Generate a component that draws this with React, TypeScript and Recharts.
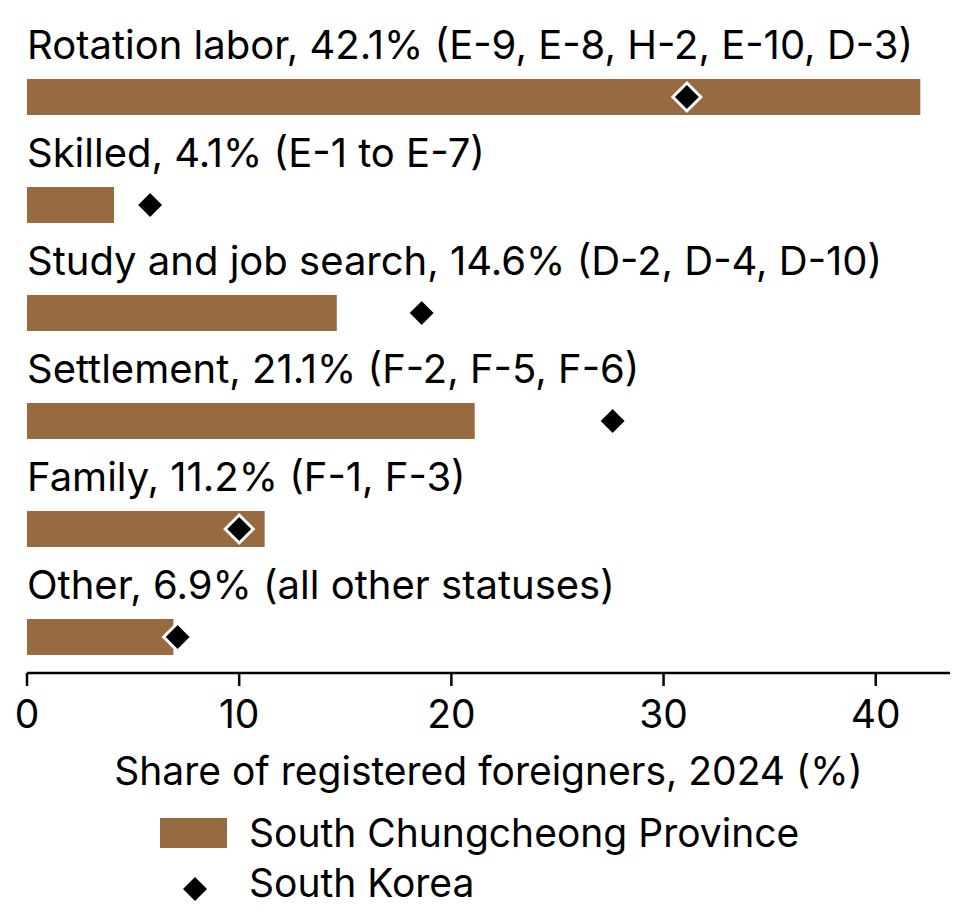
import { ComposedChart, Bar, Scatter, XAxis, YAxis, LabelList } from 'recharts'

const categories = ['Rotation labor', 'Skilled', 'Study and job search', 'Settlement', 'Family', 'Other']
const visaCodes = ['E-9, E-8, H-2, E-10, D-3', 'E-1 to E-7', 'D-2, D-4, D-10', 'F-2, F-5, F-6', 'F-1, F-3', 'all other statuses']
const provinceShare = [42.1, 4.1, 14.6, 21.1, 11.2, 6.9]
const koreaShare = [31.1, 5.8, 18.6, 27.6, 10.0, 7.1]
const xTicks = [0, 10, 20, 30, 40]

const BROWN = '#986a3f'
const FONT = 'Inter, "DejaVu Sans", sans-serif'

const data = categories.map((name, i) => ({
  idx: i,
  name,
  codes: visaCodes[i],
  province: provinceShare[i],
  korea: koreaShare[i],
}))

function Diamond(props: any) {
  const { cx, cy } = props
  if (cx == null || cy == null) return null
  const r = 14
  return (
    <polygon
      points={`${cx},${cy - r} ${cx + r},${cy} ${cx},${cy + r} ${cx - r},${cy}`}
      fill="#000"
      stroke="#fff"
      strokeWidth={3}
      strokeLinejoin="miter"
    />
  )
}

function RowLabel(props: any) {
  const { x, y, index } = props
  const d = data[index]
  return (
    <text x={x} y={y - 20} fontSize={40} fontFamily={FONT} fill="#000">
      {`${d.name}, ${d.province.toFixed(1)}% (${d.codes})`}
    </text>
  )
}

export default function App() {
  return (
    <div style={{ position: 'relative', width: 954, height: 915, fontFamily: FONT }}>
      <ComposedChart
        width={954}
        height={915}
        data={data}
        layout="vertical"
        margin={{ top: 17, right: 12, bottom: 138, left: 19 }}
      >
        <XAxis
          type="number"
          domain={[0, 43.5]}
          ticks={xTicks}
          allowDataOverflow
          height={112}
          tickSize={13}
          tickMargin={14}
          axisLine={{ stroke: '#000', strokeWidth: 2.5 }}
          tickLine={{ stroke: '#000', strokeWidth: 2.5 }}
          tick={{ fill: '#000', fontSize: 39, fontFamily: FONT }}
          label={{
            value: 'Share of registered foreigners, 2024 (%)',
            position: 'insideBottom',
            offset: 0,
            fill: '#000',
            fontSize: 39,
            fontFamily: FONT,
          }}
        />
        <YAxis type="number" dataKey="idx" domain={[-2 / 3, 16 / 3]} allowDataOverflow hide />
        <Bar dataKey="province" fill={BROWN} barSize={36} isAnimationActive={false}>
          <LabelList dataKey="province" content={RowLabel} />
        </Bar>
        <Scatter dataKey="korea" shape={Diamond} isAnimationActive={false} />
      </ComposedChart>
      <svg width={954} height={915} style={{ position: 'absolute', left: 0, top: 0, pointerEvents: 'none' }}>
        <rect x={152} y={810} width={67} height={30} fill={BROWN} />
        <text x={241} y={839} fontSize={39} fontFamily={FONT} fill="#000">South Chungcheong Province</text>
        <polygon points="187,869 199,881 187,893 175,881" fill="#000" />
        <text x={241} y={889} fontSize={39} fontFamily={FONT} fill="#000">South Korea</text>
      </svg>
    </div>
  )
}
